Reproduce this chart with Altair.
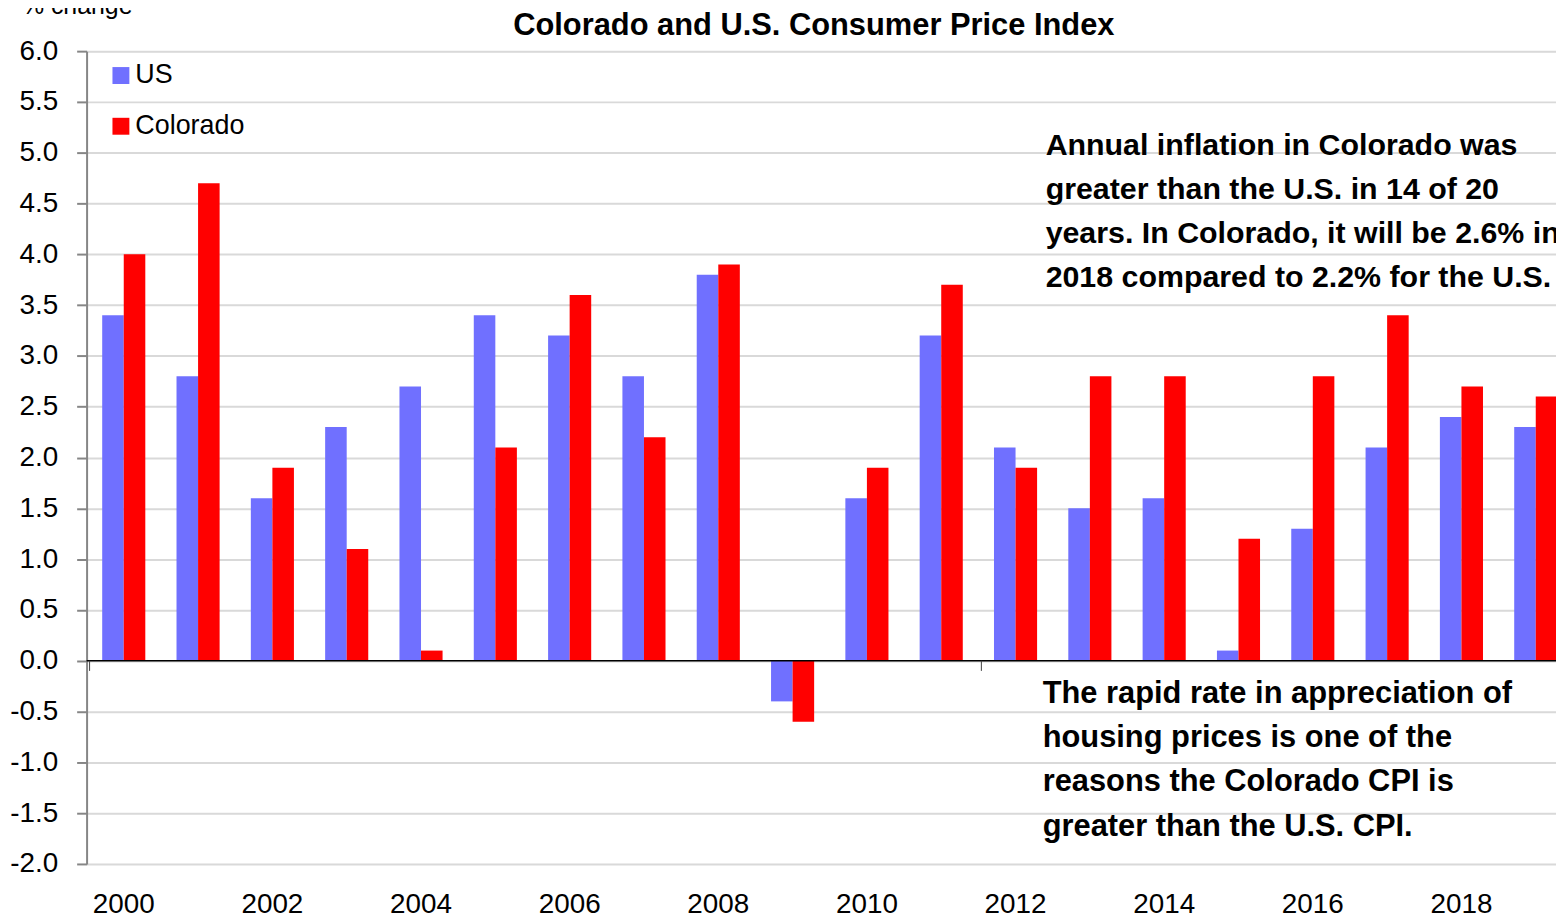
import altair as alt
import pandas as pd

years = [str(y) for y in range(2000, 2020)]
us = [3.4, 2.8, 1.6, 2.3, 2.7, 3.4, 3.2, 2.8, 3.8, -0.4, 1.6, 3.2, 2.1, 1.5, 1.6, 0.1, 1.3, 2.1, 2.4, 2.3]
colorado = [4.0, 4.7, 1.9, 1.1, 0.1, 2.1, 3.6, 2.2, 3.9, -0.6, 1.9, 3.7, 1.9, 2.8, 2.8, 1.2, 2.8, 3.4, 2.7, 2.6]
series = ["US", "Colorado"]
colors = ["#7070FF", "#FF0000"]
y_ticks = [-2.0, -1.5, -1.0, -0.5, 0.0, 0.5, 1.0, 1.5, 2.0, 2.5, 3.0, 3.5, 4.0, 4.5, 5.0, 5.5, 6.0]
x_labels = [str(y) for y in range(2000, 2020, 2)]
cat_ticks = ["2000", "2012"]

title_text = "Colorado and U.S. Consumer Price Index"
y_title = "% change"
note1 = ["Annual inflation in Colorado was", "greater than the U.S. in 14 of 20",
         "years. In Colorado, it will be 2.6% in", "2018 compared to 2.2% for the U.S."]
note2 = ["The rapid rate in appreciation of", "housing prices is one of the",
         "reasons the Colorado CPI is", "greater than the U.S. CPI."]

rows = []
for i, yr in enumerate(years):
    rows.append({"year": yr, "series": "US", "value": us[i]})
    rows.append({"year": yr, "series": "Colorado", "value": colorado[i]})
df = pd.DataFrame(rows)

FONT = "Liberation Sans, Arial, sans-serif"
W, H = 1477, 817
RANGE = 1494
P_IN, P_OUT = 0.42, 0.21
STEP = RANGE / len(years)

xscale = alt.Scale(domain=years, range=[0, RANGE], paddingInner=P_IN, paddingOuter=P_OUT)

bars = alt.Chart(df).mark_bar(clip=True).encode(
    x=alt.X("year:O", sort=years, scale=xscale,
            axis=alt.Axis(values=x_labels, labelAngle=0, title=None, domain=False, ticks=False,
                          labelFontSize=28, labelFont=FONT, labelColor="black", labelPadding=27,
                          grid=False)),
    xOffset=alt.XOffset("series:N", sort=series, scale=alt.Scale(domain=series, paddingInner=0, paddingOuter=0)),
    y=alt.Y("value:Q", scale=alt.Scale(domain=[-2, 6], nice=False, zero=False),
            axis=alt.Axis(values=y_ticks, title=None,
                          labelExpr="(datum.value < 0 ? '-' : '') + format(abs(datum.value), '.1f')",
                          labelFontSize=28, labelFont=FONT, labelColor="black", labelPadding=19,
                          tickSize=10, tickColor="#868686", tickWidth=2,
                          domainColor="#868686", domainWidth=2,
                          grid=True, gridColor="#d9d9d9", gridWidth=2)),
    color=alt.Color("series:N", sort=series,
                    scale=alt.Scale(domain=series, range=colors),
                    legend=alt.Legend(orient="none", legendX=21, legendY=11, title=None,
                                      symbolType="square", symbolSize=289, symbolStrokeWidth=0,
                                      labelFontSize=27, labelFont=FONT, labelColor="black",
                                      labelOffset=1, rowPadding=23, padding=0)),
)

zero = alt.Chart(pd.DataFrame({"v": [0.0]})).mark_rule(color="black", strokeWidth=1.5).encode(y="v:Q")

ticks = alt.Chart(pd.DataFrame({"year": cat_ticks})).mark_rule(
    color="#404040", strokeWidth=1, xOffset=-STEP * P_OUT + 3).encode(
    x=alt.X("year:O", scale=xscale, bandPosition=0),
    y=alt.datum(0), y2=alt.datum(-0.1))

one = pd.DataFrame({"a": [0]})
title = alt.Chart(one).mark_text(text=title_text, font=FONT, fontSize=31, fontWeight="bold",
                                 align="center", baseline="middle", color="black").encode(
    x=alt.value(731), y=alt.value(-25))
ytitle = alt.Chart(one).mark_text(text=y_title, font=FONT, fontSize=25,
                                  align="left", baseline="alphabetic", color="black").encode(
    x=alt.value(-65), y=alt.value(-37))
n1 = alt.Chart(one).mark_text(text=note1, font=FONT, fontSize=30.5, fontWeight="bold", lineHeight=44.5,
                              align="left", baseline="alphabetic", color="black").encode(
    x=alt.value(964), y=alt.value(104))
n2 = alt.Chart(one).mark_text(text=note2, font=FONT, fontSize=31, fontWeight="bold", lineHeight=44.5,
                              align="left", baseline="alphabetic", color="black").encode(
    x=alt.value(961), y=alt.value(655))

chart = alt.layer(bars, zero, ticks, title, ytitle, n1, n2).properties(
    width=W, height=H,
    autosize=alt.AutoSizeParams(type="none"),
    padding={"left": 79, "top": 41, "right": 0, "bottom": 58},
).configure_view(stroke=None).configure(background="white")

chart.save("out.html", embed_options={"renderer": "svg", "actions": False})
